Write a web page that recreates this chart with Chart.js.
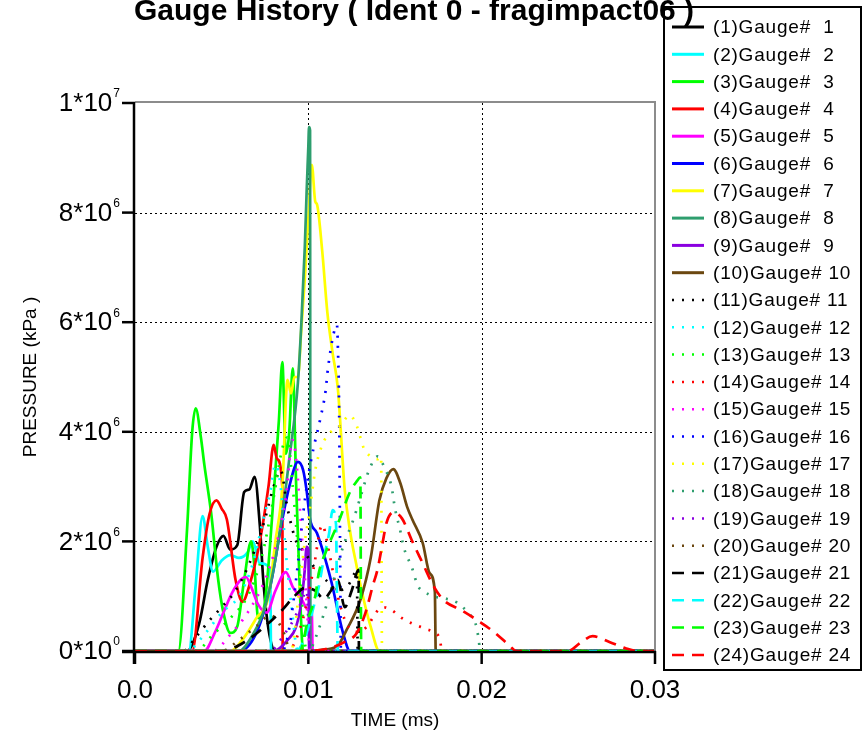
<!DOCTYPE html>
<html>
<head>
<meta charset="utf-8">
<title>Gauge History</title>
<script src="https://cdn.jsdelivr.net/npm/chart.js@4.4.1/dist/chart.umd.min.js"></script>
<style>
    html, body { margin: 0; padding: 0; background: #fff; }
    #wrap { width: 867px; height: 735px; }
</style>
</head>
<body>
<div id="wrap"><canvas id="gauges" width="867" height="735"></canvas></div>
<script>
// time in ms, pressure in units of 10^6 kPa
const MEGA = 1e6;

const t1 = [0, 0.0030, 0.0037, 0.0042, 0.0047, 0.0051, 0.0055, 0.0059, 0.0063, 0.0066, 0.0069, 0.0072, 0.0074, 0.0077, 0.0081, 0.03];
const p1 = [0, 0, 0.5, 1.3, 1.9, 2.1, 1.85, 1.93, 2.9, 2.95, 3.18, 2.3, 1.3, 0.4, 0, 0];
const t2 = [0, 0.0031, 0.0035, 0.0039, 0.0042, 0.0045, 0.0050, 0.0055, 0.0060, 0.0065, 0.0068, 0.0072, 0.0078, 0.00785, 0.03];
const p2 = [0, 0, 1.2, 2.46, 1.9, 1.45, 1.65, 1.75, 1.7, 1.8, 2.0, 1.6, 1.5, 0, 0];
const t3 = [0, 0.0025, 0.0030, 0.0033, 0.0035, 0.0038, 0.0040, 0.0044, 0.0048, 0.0051, 0.0055, 0.0059, 0.0063, 0.0067, 0.0069, 0.0071, 0.0075, 0.0079, 0.0083, 0.0085, 0.0087, 0.0089, 0.0091, 0.0093, 0.0095, 0.0097, 0.03];
const p3 = [0, 0, 2.2, 4.0, 4.43, 3.9, 3.4, 2.5, 1.3, 0.7, 0.33, 0.45, 1.3, 2.0, 1.5, 0.6, 0.9, 2.4, 4.2, 5.27, 3.6, 4.0, 5.16, 3.0, 1.2, 0, 0];
const t4 = [0, 0.0033, 0.0039, 0.0043, 0.0047, 0.0050, 0.0053, 0.0058, 0.0062, 0.0066, 0.0072, 0.0077, 0.0080, 0.0082, 0.0085, 0.00852, 0.03];
const p4 = [0, 0, 1.7, 2.5, 2.75, 2.6, 2.4, 1.3, 0.9, 1.2, 2.0, 3.0, 3.76, 3.5, 3.0, 0, 0];
const t5 = [0, 0.0040, 0.0046, 0.0051, 0.0056, 0.0061, 0.0064, 0.0067, 0.0071, 0.0076, 0.0081, 0.0087, 0.0091, 0.0096, 0.0100, 0.0102, 0.01025, 0.03];
const p5 = [0, 0, 0.33, 0.7, 1.06, 1.3, 1.35, 1.17, 0.85, 0.7, 1.1, 1.44, 1.17, 0.95, 0.75, 0.7, 0, 0];
const t6 = [0, 0.0060, 0.0070, 0.0078, 0.0085, 0.0089, 0.0094, 0.0097, 0.0099, 0.0101, 0.0105, 0.0113, 0.0120, 0.0124, 0.03];
const p6 = [0, 0, 0.33, 1.17, 2.4, 3.0, 3.45, 3.3, 2.93, 2.4, 2.15, 1.3, 0.33, 0, 0];
const t7 = [0, 0.0055, 0.0063, 0.0070, 0.0077, 0.0081, 0.0085, 0.0088, 0.0090, 0.0092, 0.0094, 0.0096, 0.0098, 0.0100, 0.0102, 0.0104, 0.0105, 0.0108, 0.0111, 0.0114, 0.0117, 0.0121, 0.0124, 0.0128, 0.0132, 0.0136, 0.0141, 0.03];
const p7 = [0, 0, 0.25, 0.6, 1.0, 2.0, 3.0, 4.95, 4.7, 5.0, 5.0, 5.9, 6.8, 7.9, 8.87, 8.2, 8.15, 7.3, 6.17, 5.44, 4.8, 2.94, 2.2, 1.53, 0.93, 0.44, 0, 0];
const t8 = [0, 0.0060, 0.0068, 0.0075, 0.0080, 0.0085, 0.0089, 0.0094, 0.0096, 0.0098, 0.0099, 0.0100, 0.01004, 0.0101, 0.01012, 0.03];
const p8 = [0, 0, 0.3, 0.8, 1.5, 2.5, 3.5, 4.9, 6.0, 7.4, 8.36, 9.2, 9.56, 9.5, 0, 0];
const t9 = [0, 0.0080, 0.0088, 0.0093, 0.0096, 0.0098, 0.0099, 0.0100, 0.01005, 0.03];
const p9 = [0, 0, 0.2, 0.45, 0.9, 1.5, 1.9, 1.85, 0, 0];
const t10 = [0, 0.0098, 0.0110, 0.0117, 0.0122, 0.0130, 0.0136, 0.0141, 0.0145, 0.0149, 0.0153, 0.0157, 0.0160, 0.0166, 0.0170, 0.0173, 0.01735, 0.03];
const p10 = [0, 0, 0.03, 0.1, 0.38, 0.93, 1.7, 2.75, 3.15, 3.32, 3.07, 2.63, 2.4, 1.97, 1.42, 1.08, 0, 0];
const t11 = [0, 0.0028, 0.0035, 0.0043, 0.0050, 0.0058, 0.0066, 0.0074, 0.0080, 0.0084, 0.0088, 0.0093, 0.0098, 0.0104, 0.0110, 0.0117, 0.0123, 0.0128, 0.01285, 0.03];
const p11 = [0, 0, 0.25, 0.56, 0.8, 1.1, 1.6, 2.3, 3.0, 3.3, 2.6, 2.0, 1.8, 1.5, 1.3, 1.1, 1.2, 1.45, 0, 0];
const t12 = [0, 0.0030, 0.0040, 0.0050, 0.0060, 0.0068, 0.0074, 0.0078, 0.0081, 0.0084, 0.0087, 0.0090, 0.0094, 0.03];
const p12 = [0, 0, 0.3, 0.7, 1.0, 1.6, 2.4, 2.9, 3.4, 3.0, 1.8, 0.9, 0, 0];
const t13 = [0, 0.0035, 0.0045, 0.0055, 0.0065, 0.0073, 0.0080, 0.0085, 0.0088, 0.0091, 0.0095, 0.0099, 0.03];
const p13 = [0, 0, 0.3, 0.6, 1.0, 1.7, 2.8, 3.7, 3.9, 3.0, 1.5, 0, 0];
const t14 = [0, 0.0088, 0.0097, 0.0103, 0.0108, 0.0112, 0.0117, 0.0122, 0.0128, 0.0134, 0.0139, 0.0143, 0.0148, 0.0153, 0.0160, 0.0168, 0.0173, 0.0176, 0.0177, 0.03];
const p14 = [0, 0, 0.6, 1.5, 2.3, 1.8, 1.0, 0.5, 0.35, 0.45, 0.7, 0.8, 0.75, 0.62, 0.5, 0.4, 0.33, 0.2, 0, 0];
const t15 = [0, 0.0045, 0.0055, 0.0065, 0.0075, 0.0082, 0.0087, 0.0091, 0.0093, 0.0096, 0.0099, 0.0101, 0.03];
const p15 = [0, 0, 0.3, 0.7, 1.3, 2.0, 2.8, 3.85, 3.5, 2.2, 0.9, 0, 0];
const t16 = [0, 0.0085, 0.0090, 0.0094, 0.0097, 0.0100, 0.0103, 0.0107, 0.0110, 0.0111, 0.0114, 0.01165, 0.0117, 0.01178, 0.01183, 0.01188, 0.03];
const p16 = [0, 0, 0.6, 1.6, 2.5, 3.2, 3.7, 4.25, 4.76, 5.07, 5.7, 5.95, 5.6, 4.3, 2.0, 0, 0];
const t17 = [0, 0.0090, 0.0095, 0.0098, 0.0101, 0.0104, 0.0108, 0.0113, 0.0118, 0.0124, 0.0128, 0.0132, 0.0136, 0.0140, 0.0142, 0.01425, 0.03];
const p17 = [0, 0, 1.2, 2.0, 2.6, 3.3, 3.76, 4.0, 4.1, 4.3, 4.1, 3.7, 3.55, 3.5, 3.55, 0, 0];
const t18 = [0, 0.0100, 0.0106, 0.0112, 0.0120, 0.0126, 0.0130, 0.0135, 0.0140, 0.0144, 0.0148, 0.0150, 0.0153, 0.0155, 0.0160, 0.0163, 0.0167, 0.0172, 0.0180, 0.0186, 0.0192, 0.0197, 0.01985, 0.0199, 0.03];
const p18 = [0, 0, 0.4, 1.0, 1.9, 2.4, 2.8, 3.3, 3.55, 3.34, 3.0, 2.6, 2.2, 1.9, 1.5, 1.2, 1.08, 1.0, 0.95, 0.88, 0.7, 0.44, 0.15, 0, 0];
const t19 = [0, 0.0078, 0.0086, 0.0092, 0.0096, 0.0099, 0.0101, 0.03];
const p19 = [0, 0, 0.3, 0.6, 0.9, 1.1, 0, 0];
const t20 = [0, 0.0050, 0.0060, 0.0070, 0.0078, 0.0085, 0.0090, 0.03];
const p20 = [0, 0, 0.2, 0.45, 0.65, 0.4, 0, 0];
const t21 = [0, 0.0050, 0.0065, 0.0075, 0.0085, 0.0092, 0.0098, 0.0104, 0.0109, 0.0113, 0.0117, 0.0121, 0.0125, 0.0129, 0.01292, 0.03];
const p21 = [0, 0, 0.2, 0.45, 0.75, 1.0, 1.15, 1.1, 0.95, 1.1, 1.3, 0.8, 1.1, 1.48, 0, 0];
const t22 = [0, 0.0093, 0.0099, 0.0103, 0.0106, 0.0109, 0.0112, 0.0114, 0.0116, 0.01165, 0.0117, 0.03];
const p22 = [0, 0, 0.33, 0.8, 1.17, 1.7, 2.15, 2.57, 2.3, 1.0, 0, 0];
const t23 = [0, 0.0095, 0.0100, 0.0104, 0.0106, 0.0110, 0.0118, 0.0124, 0.0128, 0.0130, 0.01305, 0.03];
const p23 = [0, 0, 0.6, 1.0, 1.42, 1.8, 2.4, 2.9, 3.1, 3.17, 0, 0];
const t24 = [0, 0.0100, 0.0112, 0.0120, 0.0128, 0.0133, 0.0137, 0.0140, 0.0143, 0.0145, 0.0149, 0.0154, 0.0160, 0.0166, 0.0172, 0.0178, 0.0188, 0.0199, 0.0207, 0.0216, 0.0220, 0.0250, 0.0257, 0.0264, 0.0274, 0.0283, 0.0290, 0.03];
const p24 = [0, 0, 0.05, 0.15, 0.33, 0.7, 1.17, 1.5, 2.0, 2.33, 2.53, 2.42, 2.0, 1.6, 1.2, 0.93, 0.75, 0.53, 0.35, 0.1, 0, 0, 0.15, 0.27, 0.16, 0.05, 0, 0];

const times = [t1, t2, t3, t4, t5, t6, t7, t8, t9, t10, t11, t12, t13, t14, t15, t16, t17, t18, t19, t20, t21, t22, t23, t24];
const pressures = [p1, p2, p3, p4, p5, p6, p7, p8, p9, p10, p11, p12, p13, p14, p15, p16, p17, p18, p19, p20, p21, p22, p23, p24];

const xTicks = [0, 0.01, 0.02, 0.03];
const xTickLabels = ["0.0", "0.01", "0.02", "0.03"];
const yTicks = [0, 2e6, 4e6, 6e6, 8e6, 1e7];
const yTickMant = ["0", "2", "4", "6", "8", "1"];
const yTickExp = ["0", "6", "6", "6", "6", "7"];

const titleText = "Gauge History ( Ident 0 - fragimpact06 )";
const xTitle = "TIME (ms)";
const yTitle = "PRESSURE (kPa )";

// pen colours cycle every 10 gauges: solid, then dotted, then dashed
const penColors = ["#000000", "#00ffff", "#00ff00", "#ff0000", "#ff00ff", "#0000ff", "#ffff00", "#2e9e6e", "#8a00e0", "#6b4710"];
const DOT = [2, 8];
const DASH = [12, 8];
const TICK = 13;

const FONT = "'Liberation Sans', Arial, sans-serif";

let datasets = times.map((t, i) => {
    let dash = i < 10 ? [] : i < 20 ? DOT : DASH;
    return {
        label: `(${i + 1})Gauge# ${String(i + 1).padStart(2, " ")}`,
        data: t.map((x, k) => ({ x: x, y: pressures[i][k] * MEGA })),
        borderColor: penColors[i % 10],
        borderWidth: 2.7,
        borderDash: dash,
        borderCapStyle: "butt",
        pointRadius: 0,
        fill: false,
        cubicInterpolationMode: "monotone",
        clip: 3,
        order: times.length - i,
    };
});

function line(ctx, x0, y0, x1, y1) {
    ctx.beginPath();
    ctx.moveTo(x0, y0);
    ctx.lineTo(x1, y1);
    ctx.stroke();
}

const decor = {
    id: "decor",
    beforeDatasetsDraw(chart) {
        const { ctx, chartArea: a } = chart;
        const x = chart.scales.x, y = chart.scales.y;
        ctx.save();
        ctx.strokeStyle = "#000";
        ctx.lineWidth = 1;
        ctx.setLineDash([2, 3]);
        xTicks.slice(1, -1).forEach((v) => {
            let px = Math.round(x.getPixelForValue(v)) + 0.5;
            line(ctx, px, a.top, px, a.bottom);
        });
        yTicks.slice(1, -1).forEach((v) => {
            let py = Math.round(y.getPixelForValue(v)) + 0.5;
            line(ctx, a.left, py, a.right, py);
        });
        ctx.restore();
    },
    afterDatasetsDraw(chart) {
        const { ctx, chartArea: a } = chart;
        const x = chart.scales.x, y = chart.scales.y;
        ctx.save();
        ctx.setLineDash([]);

        // grey top and right frame
        ctx.strokeStyle = "#8c8c8c";
        ctx.lineWidth = 2;
        line(ctx, a.left, a.top - 1, a.right + 1, a.top - 1);
        line(ctx, a.right, a.top - 1, a.right, a.bottom);

        // black axes with outside ticks
        ctx.strokeStyle = "#000";
        ctx.lineWidth = 2.5;
        line(ctx, a.left - 1, a.top - 1, a.left - 1, a.bottom + TICK);
        line(ctx, a.left - TICK, a.bottom + 1, a.right + 1, a.bottom + 1);
        xTicks.forEach((v) => {
            let px = x.getPixelForValue(v);
            line(ctx, px, a.bottom, px, a.bottom + TICK);
        });
        yTicks.forEach((v) => {
            let py = y.getPixelForValue(v);
            line(ctx, a.left - TICK, py, a.left, py);
        });

        ctx.fillStyle = "#000";
        ctx.textBaseline = "middle";
        ctx.textAlign = "center";
        ctx.font = `26px ${FONT}`;
        xTicks.forEach((v, i) => {
            ctx.fillText(xTickLabels[i], x.getPixelForValue(v), a.bottom + 40);
        });

        ctx.textAlign = "right";
        yTicks.forEach((v, i) => {
            let py = y.getPixelForValue(v);
            ctx.font = `12px ${FONT}`;
            let ew = ctx.measureText(yTickExp[i]).width;
            ctx.fillText(yTickExp[i], a.left - 15, py - 9);
            ctx.font = `26px ${FONT}`;
            ctx.fillText(yTickMant[i] + "*10", a.left - 16 - ew, py + 1);
        });

        ctx.textAlign = "center";
        ctx.font = `19px ${FONT}`;
        ctx.fillText(xTitle, (a.left + a.right) / 2, a.bottom + 70);
        ctx.save();
        ctx.translate(31, (a.top + a.bottom) / 2);
        ctx.rotate(-Math.PI / 2);
        ctx.fillText(yTitle, 0, 0);
        ctx.restore();

        // legend box
        const lx = 664, ly = 7, lw = 197, lh = 663, rowH = 27.3;
        ctx.strokeStyle = "#000";
        ctx.lineWidth = 2;
        ctx.strokeRect(lx, ly, lw, lh);
        ctx.textAlign = "left";
        ctx.font = `19px ${FONT}`;
        ctx.letterSpacing = "0.8px";
        chart.data.datasets.forEach((ds, i) => {
            let cy = ly + 20 + i * rowH;
            ctx.strokeStyle = ds.borderColor;
            ctx.lineWidth = ds.borderDash.length ? 2.5 : 3;
            ctx.setLineDash(ds.borderDash);
            line(ctx, lx + 8, cy, lx + 40, cy);
            ctx.setLineDash([]);
            ctx.fillStyle = "#000";
            ctx.fillText(ds.label, lx + 49, cy + 1);
        });
        ctx.letterSpacing = "0px";

        // title sits over the legend box
        ctx.font = `bold 30px ${FONT}`;
        ctx.textBaseline = "alphabetic";
        ctx.fillText(titleText, 134, 20);
        ctx.restore();
    },
};

new Chart(document.getElementById("gauges"), {
    type: "line",
    data: { datasets: datasets },
    options: {
        responsive: false,
        animation: false,
        devicePixelRatio: 1,
        layout: { padding: { left: 135, right: 212, top: 103, bottom: 84 } },
        scales: {
            x: { type: "linear", min: 0, max: 0.03, display: false },
            y: { type: "linear", min: 0, max: 1e7, display: false },
        },
        plugins: { legend: { display: false }, tooltip: { enabled: false } },
    },
    plugins: [decor],
});
</script>
</body>
</html>
